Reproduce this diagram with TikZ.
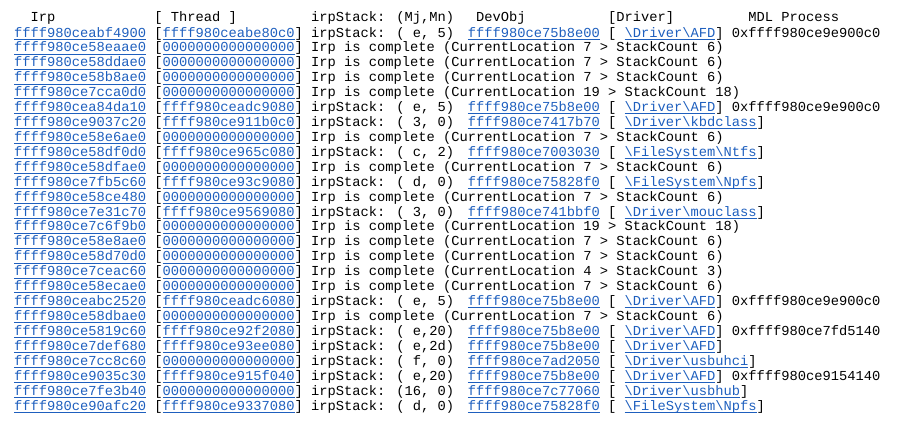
\documentclass[tikz,border=0pt]{standalone}
\usepackage{fontspec}
\newfontfamily\mono{Liberation Mono}
\definecolor{lb}{RGB}{30,95,190}
\newcommand\lk[1]{{\color{lb}\setbox0\hbox{#1}\rlap{\rule[-2.6pt]{\wd0}{0.8pt}}\box0}}
\newcommand\bs{\textbackslash}
\tikzset{txt/.style={anchor=base west,inner sep=0pt,font=\mono\fontsize{13.75}{14}\selectfont}}
\newcommand\cw{8.25}
\newcommand\rowy[1]{37+(#1-1)*14.92}
% complete row
\newcommand\crow[5]{%
 \node[txt] (irp#1) at ({14},{\rowy{#1}}) {\lk{#2}};
 \node[txt] (thr#1) at ({14+17*\cw},{\rowy{#1}}) {[\lk{#3}]};
 \node[txt] (st#1) at ({14+36*\cw},{\rowy{#1}}) {Irp is complete (CurrentLocation #4 > StackCount #5)};}
% stack row
\newcommand\srow[7]{%
 \node[txt] (irp#1) at ({14},{\rowy{#1}}) {\lk{#2}};
 \node[txt] (thr#1) at ({14+17*\cw},{\rowy{#1}}) {[\lk{#3}]};
 \node[txt] (st#1) at ({14+36*\cw},{\rowy{#1}}) {irpStack: #4};
 \node[txt] (dev#1) at ({14+55*\cw},{\rowy{#1}}) {\lk{#5}};
 \node[txt] (drv#1) at ({14+72*\cw},{\rowy{#1}}) {[~\lk{#6}]};
 \node[txt] (mdl#1) at ({14+87*\cw},{\rowy{#1}}) {#7};}
\begin{document}
\begin{tikzpicture}[x=1pt,y=-1pt]
\useasboundingbox (0,0) rectangle (907,429);
\node[txt] (hirp) at ({14+2*\cw},21) {Irp};
\node[txt] (hthr) at ({14+17*\cw},21) {[ Thread ]};
\node[txt] (hst) at ({14+36*\cw},21) {irpStack: (Mj,Mn)};
\node[txt] (hdev) at ({14+56*\cw},21) {DevObj};
\node[txt] (hdrv) at ({14+72*\cw},21) {[Driver]};
\node[txt] (hmdl) at ({14+89*\cw},21) {MDL Process};
\srow{1}{ffff980ceabf4900}{ffff980ceabe80c0}{( e, 5)}{ffff980ce75b8e00}{\bs Driver\bs AFD}{0xffff980ce9e900c0}
\crow{2}{ffff980ce58eaae0}{0000000000000000}{7}{6}
\crow{3}{ffff980ce58ddae0}{0000000000000000}{7}{6}
\crow{4}{ffff980ce58b8ae0}{0000000000000000}{7}{6}
\crow{5}{ffff980ce7cca0d0}{0000000000000000}{19}{18}
\srow{6}{ffff980cea84da10}{ffff980ceadc9080}{( e, 5)}{ffff980ce75b8e00}{\bs Driver\bs AFD}{0xffff980ce9e900c0}
\srow{7}{ffff980ce9037c20}{ffff980ce911b0c0}{( 3, 0)}{ffff980ce7417b70}{\bs Driver\bs kbdclass}{}
\crow{8}{ffff980ce58e6ae0}{0000000000000000}{7}{6}
\srow{9}{ffff980ce58df0d0}{ffff980ce965c080}{( c, 2)}{ffff980ce7003030}{\bs FileSystem\bs Ntfs}{}
\crow{10}{ffff980ce58dfae0}{0000000000000000}{7}{6}
\srow{11}{ffff980ce7fb5c60}{ffff980ce93c9080}{( d, 0)}{ffff980ce75828f0}{\bs FileSystem\bs Npfs}{}
\crow{12}{ffff980ce58ce480}{0000000000000000}{7}{6}
\srow{13}{ffff980ce7e31c70}{ffff980ce9569080}{( 3, 0)}{ffff980ce741bbf0}{\bs Driver\bs mouclass}{}
\crow{14}{ffff980ce7c6f9b0}{0000000000000000}{19}{18}
\crow{15}{ffff980ce58e8ae0}{0000000000000000}{7}{6}
\crow{16}{ffff980ce58d70d0}{0000000000000000}{7}{6}
\crow{17}{ffff980ce7ceac60}{0000000000000000}{4}{3}
\crow{18}{ffff980ce58ecae0}{0000000000000000}{7}{6}
\srow{19}{ffff980ceabc2520}{ffff980ceadc6080}{( e, 5)}{ffff980ce75b8e00}{\bs Driver\bs AFD}{0xffff980ce9e900c0}
\crow{20}{ffff980ce58dbae0}{0000000000000000}{7}{6}
\srow{21}{ffff980ce5819c60}{ffff980ce92f2080}{( e,20)}{ffff980ce75b8e00}{\bs Driver\bs AFD}{0xffff980ce7fd5140}
\srow{22}{ffff980ce7def680}{ffff980ce93ee080}{( e,2d)}{ffff980ce75b8e00}{\bs Driver\bs AFD}{}
\srow{23}{ffff980ce7cc8c60}{0000000000000000}{( f, 0)}{ffff980ce7ad2050}{\bs Driver\bs usbuhci}{}
\srow{24}{ffff980ce9035c30}{ffff980ce915f040}{( e,20)}{ffff980ce75b8e00}{\bs Driver\bs AFD}{0xffff980ce9154140}
\srow{25}{ffff980ce7fe3b40}{0000000000000000}{(16, 0)}{ffff980ce7c77060}{\bs Driver\bs usbhub}{}
\srow{26}{ffff980ce90afc20}{ffff980ce9337080}{( d, 0)}{ffff980ce75828f0}{\bs FileSystem\bs Npfs}{}
\end{tikzpicture}
\end{document}
